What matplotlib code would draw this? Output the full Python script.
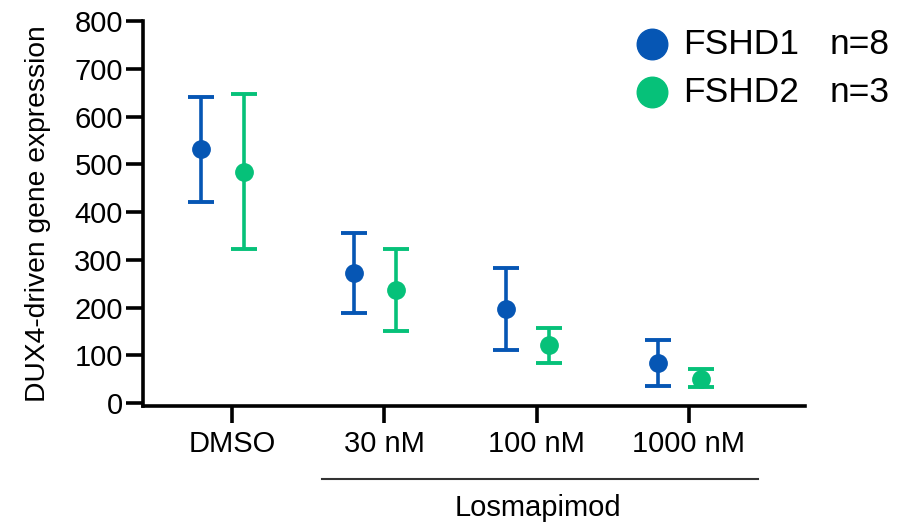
import matplotlib
matplotlib.use("Agg")
import matplotlib.pyplot as plt
import numpy as np

plt.rcParams['font.family'] = ['Liberation Sans', 'DejaVu Sans']

categories = ["DMSO", "30 nM", "100 nM", "1000 nM"]
fshd1_mean = [532, 272, 197, 84]
fshd1_low = [421, 188, 111, 36]
fshd1_high = [641, 356, 283, 132]
fshd2_mean = [484, 237, 121, 50]
fshd2_low = [322, 151, 84, 34]
fshd2_high = [647, 322, 157, 71]
series_names = ["FSHD1", "FSHD2"]
series_n = ["n=8", "n=3"]
blue = "#0656B4"
green = "#06C179"

fig = plt.figure(figsize=(9.07, 5.24), dpi=100)
ax = fig.add_axes([143/907, 1-406/524, (805-143)/907, (406-21)/524])

x = np.arange(len(categories))
for mean, lo, hi, off, col in [(fshd1_mean, fshd1_low, fshd1_high, -0.2, blue),
                               (fshd2_mean, fshd2_low, fshd2_high, 0.08, green)]:
    mean = np.array(mean); lo = np.array(lo); hi = np.array(hi)
    ax.errorbar(x + off, mean, yerr=[mean - lo, hi - mean], fmt='o', color=col,
                markersize=12.5, elinewidth=2.6, capsize=9.5, capthick=2.8)

ax.set_xlim(-0.584, 3.762)
ax.set_ylim(-6, 800)
ax.set_yticks(np.arange(0, 801, 100))
ax.set_xticks(x)
ax.set_xticklabels(categories)
for s in ['top', 'right']:
    ax.spines[s].set_visible(False)
for s in ['left', 'bottom']:
    ax.spines[s].set_linewidth(2.6)
ax.tick_params(axis='both', width=2.6, length=12.5, labelsize=21)
ax.tick_params(axis='y', pad=2)
ax.tick_params(axis='x', pad=5)
ax.set_ylabel("DUX4-driven gene expression", fontsize=20.3)
ax.yaxis.set_label_coords(-0.139, 0.5)

# Losmapimod bracket
fig.add_artist(plt.Line2D([322/907, 758/907], [1-479/524, 1-479/524], color='#333333', lw=1.5))
fig.text(538/907, 1-508/524, "Losmapimod", ha='center', va='center', fontsize=21)

# legend
for i, (name, n, col) in enumerate(zip(series_names, series_n, [blue, green])):
    yy = 1 - (44 + 48*i)/524
    fig.add_artist(plt.Line2D([652/907], [yy], marker='o', markersize=22, color=col, lw=0))
    fig.text(683/907, yy, name, ha='left', va='center', fontsize=25.5)
    fig.text(830/907, yy, n, ha='left', va='center', fontsize=25.5)

fig.savefig("out.png", dpi=100)
